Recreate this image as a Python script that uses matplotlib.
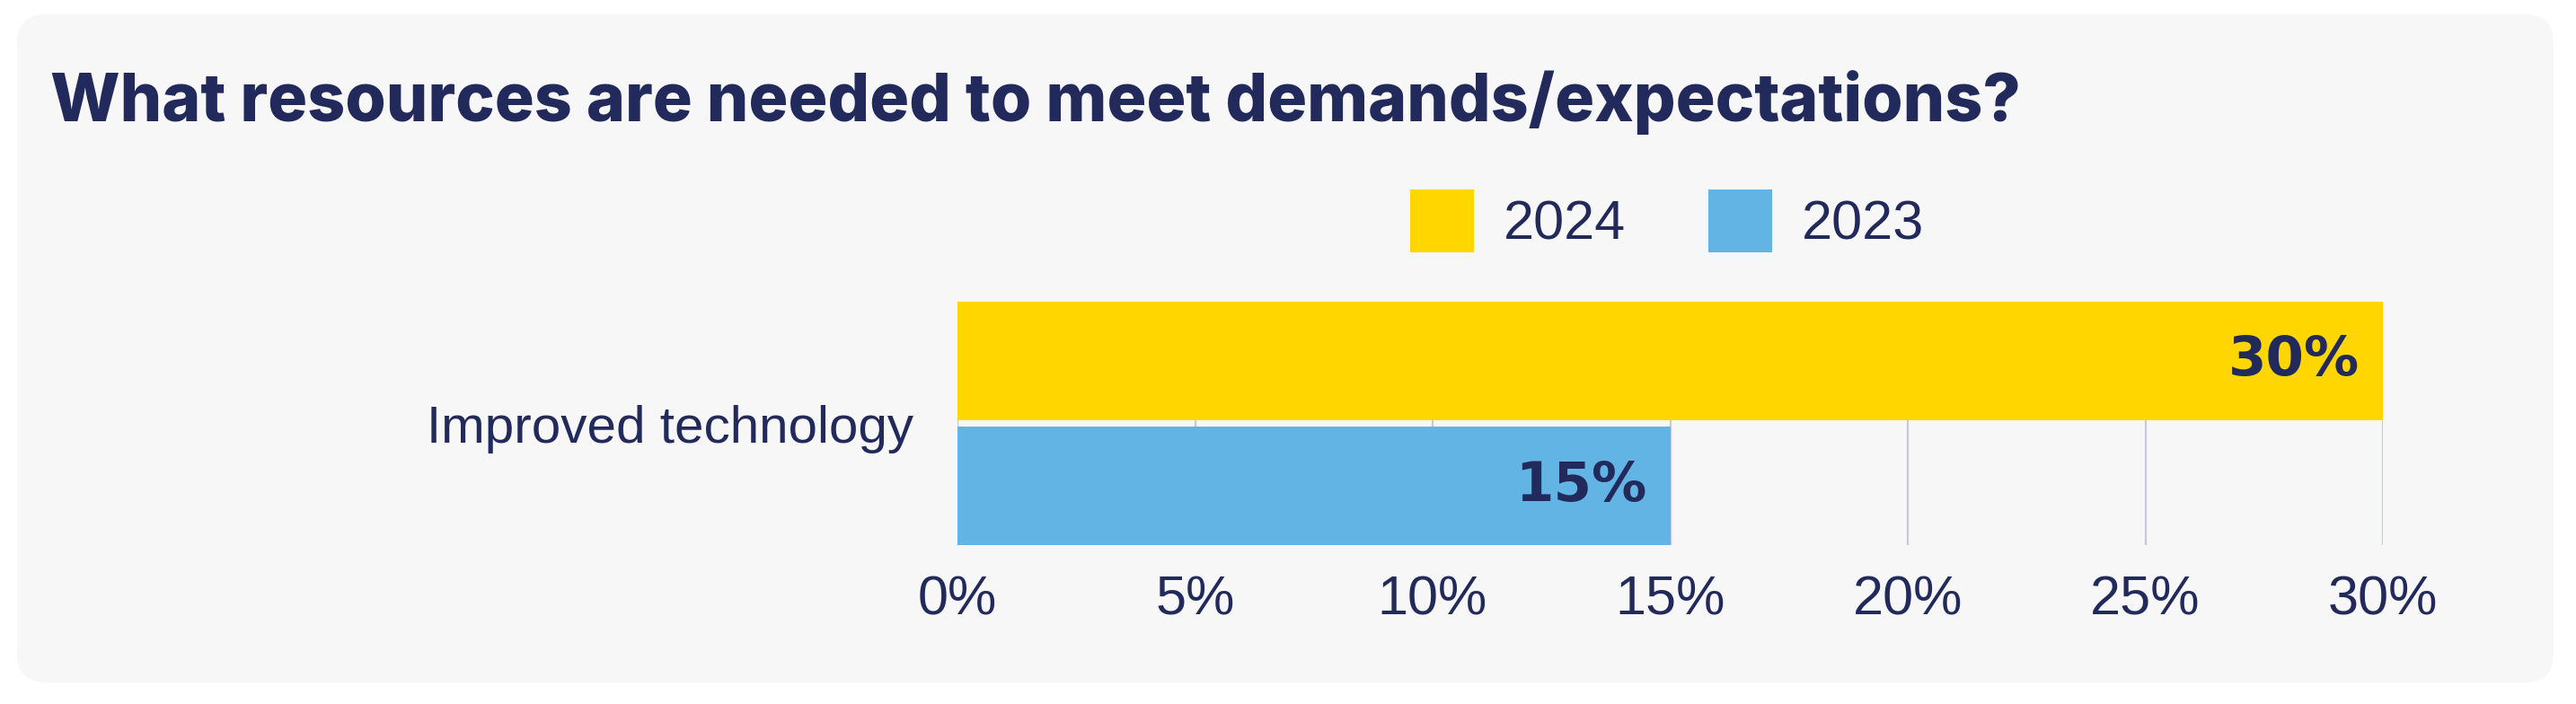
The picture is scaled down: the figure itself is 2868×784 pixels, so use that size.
import matplotlib.pyplot as plt
from matplotlib.patches import FancyBboxPatch

# data
category = "Improved technology"
years = ["2024", "2023"]
values = [30, 15]
colors = ["#FFD600", "#62B4E4"]
xticks = [0, 5, 10, 15, 20, 25, 30]
title = "What resources are needed to meet demands/expectations?"

navy = "#222A5B"
W, H, DPI = 28.68, 7.84, 100

fig = plt.figure(figsize=(W, H), dpi=DPI, facecolor="white")

# rounded light panel behind everything
panel = FancyBboxPatch((0.19, 0.24), 28.24, 7.44,
                       boxstyle="round,pad=0,rounding_size=0.32",
                       transform=fig.dpi_scale_trans,
                       facecolor="#F7F7F7", edgecolor="none", zorder=-10)
fig.add_artist(panel)

ax = fig.add_axes([1066 / 2868, 1 - 607 / 784, (2653 - 1066) / 2868, (607 - 336) / 784])
ax.set_facecolor("none")

h = 132 / 140
ypos = [1, 0]
bars = []
for y, v, c, lab in zip(ypos, values, colors, years):
    b = ax.barh(y, v, height=h, color=c, label=lab, zorder=2)
    bars.append(b)
    ax.annotate(f"{v}%", xy=(v, y), xytext=(-26, 0), textcoords="offset pixels",
                ha="right", va="center", fontsize=44, fontweight="bold",
                family="DejaVu Sans", color=navy, zorder=3)

ax.set_xlim(0, 30)
ax.set_ylim(-h / 2, 1 + h / 2)
ax.set_xticks(xticks)
ax.set_xticklabels([f"{t}%" for t in xticks], family="Liberation Sans", fontsize=44, color=navy)
ax.set_yticks([0.5])
ax.set_yticklabels([category], family="Liberation Sans", fontsize=42, color=navy)
ax.tick_params(axis="x", length=0, pad=24)
ax.tick_params(axis="y", length=0, pad=35)
ax.grid(axis="x", color="#C8CAD8", linewidth=1.6, zorder=0)
ax.set_axisbelow(True)
for s in ax.spines.values():
    s.set_visible(False)
ax.axvline(0, color="#C8CAD8", linewidth=1.6, zorder=1)

fig.legend(handles=[b[0] for b in bars], labels=years, loc="center left",
           bbox_to_anchor=(1570 / 2868, 1 - 246 / 784), frameon=False,
           prop={"family": "Liberation Sans", "size": 44}, labelcolor=navy,
           ncol=2, handlelength=1.16, handleheight=1.38, handletextpad=0.54,
           columnspacing=1.5, borderpad=0, borderaxespad=0)

fig.text(56 / 2868, 1 - 135 / 784, title, ha="left", va="baseline",
         fontsize=52.8, fontweight="heavy", family="Inter", color=navy)

fig.savefig("out.png", dpi=DPI, facecolor="white")
